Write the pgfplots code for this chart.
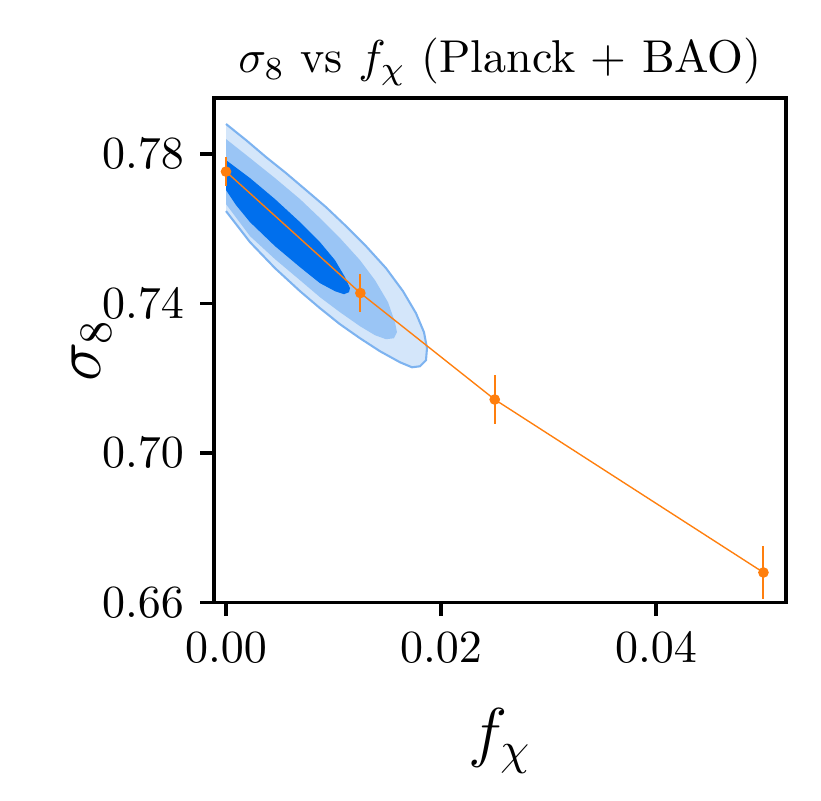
\documentclass[border=0pt]{standalone}
\usepackage{pgfplots}
\pgfplotsset{compat=1.18}
\usetikzlibrary{calc}
\definecolor{cLight}{HTML}{D4E6FA}
\definecolor{cMid}{HTML}{9AC5F5}
\definecolor{cDark}{HTML}{006FED}
\definecolor{cEdge}{HTML}{7DB3F0}
\definecolor{cOrange}{HTML}{FF7F0E}

\begin{document}
\begin{tikzpicture}
\begin{axis}[
  name=ax,
  scale only axis,
  width=124.3pt, height=109.6pt,
  xmin=-0.00112, xmax=0.0521,
  ymin=0.66, ymax=0.795,
  xtick={0,0.02,0.04},
  ytick={0.66,0.70,0.74,0.78},
  scaled ticks=false,
  xticklabel style={/pgf/number format/.cd,fixed,fixed zerofill,precision=2},
  yticklabel style={/pgf/number format/.cd,fixed,fixed zerofill,precision=2},
  tick align=outside, tick pos=left,
  major tick length=3pt,
  axis line style={line width=0.7pt},
  every tick/.style={black, line width=0.7pt},
  xlabel={$f_\chi$}, ylabel={$\sigma_8$},
  label style={font=\Large},
  xlabel style={at={(axis description cs:0.5,0)}, anchor=base, yshift=-33pt},
  ylabel style={at={(axis description cs:-0.214,0.5)}, anchor=center},
  title={$\sigma_8$ vs $f_\chi$ (Planck + BAO)},
  title style={at={(axis description cs:0.5,1)}, anchor=base, yshift=-0.4pt},
]
% 95% region
\addplot[fill=cLight, draw=none] coordinates {
  (0,0.78804) (0.001860,0.78375) (0.003721,0.77920) (0.005581,0.77491)
  (0.007442,0.77036) (0.009302,0.76580) (0.011163,0.76071) (0.013023,0.75535)
  (0.014884,0.74946) (0.016465,0.74330) (0.017674,0.73740) (0.018419,0.73231)
  (0.018698,0.72803) (0.018605,0.72481) (0.018047,0.72320) (0.017302,0.72293)
  (0.016186,0.72427) (0.014326,0.72722) (0.012465,0.73070) (0.010605,0.73445)
  (0.008744,0.73874) (0.006884,0.74330) (0.004558,0.74946) (0.002233,0.75642)
  (0,0.76473)} -- cycle;
% 68% region
\addplot[fill=cMid, draw=none] coordinates {
  (0,0.78402) (0.002233,0.77893) (0.004558,0.77357) (0.006884,0.76794)
  (0.008744,0.76285) (0.010605,0.75750) (0.012465,0.75160) (0.013860,0.74624)
  (0.015070,0.74035) (0.015721,0.73499) (0.015907,0.73231) (0.015628,0.73070)
  (0.014884,0.73044) (0.013860,0.73151) (0.012465,0.73392) (0.010605,0.73767)
  (0.008744,0.74169) (0.006884,0.74624) (0.004558,0.75187) (0.002233,0.75803)
  (0,0.76660)} -- cycle;
% inner region
\addplot[fill=cDark, draw=none] coordinates {
  (0,0.77839) (0.002233,0.77357) (0.004558,0.76794) (0.006884,0.76178)
  (0.008744,0.75642) (0.010140,0.75160) (0.011070,0.74705) (0.011535,0.74410)
  (0.011442,0.74303) (0.010977,0.74249) (0.010140,0.74330) (0.008744,0.74544)
  (0.006884,0.74973) (0.004558,0.75535) (0.002233,0.76178) (0.000930,0.76634)
  (0,0.77036)} -- cycle;
% outline of outer contour
\addplot[draw=cEdge, line width=0.45pt] coordinates {
  (0,0.78804) (0.001860,0.78375) (0.003721,0.77920) (0.005581,0.77491)
  (0.007442,0.77036) (0.009302,0.76580) (0.011163,0.76071) (0.013023,0.75535)
  (0.014884,0.74946) (0.016465,0.74330) (0.017674,0.73740) (0.018419,0.73231)
  (0.018698,0.72803) (0.018605,0.72481) (0.018047,0.72320) (0.017302,0.72293)
  (0.016186,0.72427) (0.014326,0.72722) (0.012465,0.73070) (0.010605,0.73445)
  (0.008744,0.73874) (0.006884,0.74330) (0.004558,0.74946) (0.002233,0.75642)
  (0,0.76473)};
% simulation points
\addplot[cOrange, line width=0.3pt, mark=*, mark size=1pt,
  error bars/.cd, y dir=both, y explicit,
  error bar style={line width=0.45pt}, error mark=none]
  coordinates {
  (0,0.7753) +- (0,0.0038)
  (0.0125,0.7428) +- (0,0.0051)
  (0.025,0.7143) +- (0,0.0066)
  (0.05,0.6680) +- (0,0.0071)};
\end{axis}
% page frame as in the reference
\pgfresetboundingbox
\path ($(ax.south west)+(-46.5pt,-43.0pt)$) rectangle ($(ax.north east)+(7.6pt,21.3pt)$);
\end{tikzpicture}
\end{document}
